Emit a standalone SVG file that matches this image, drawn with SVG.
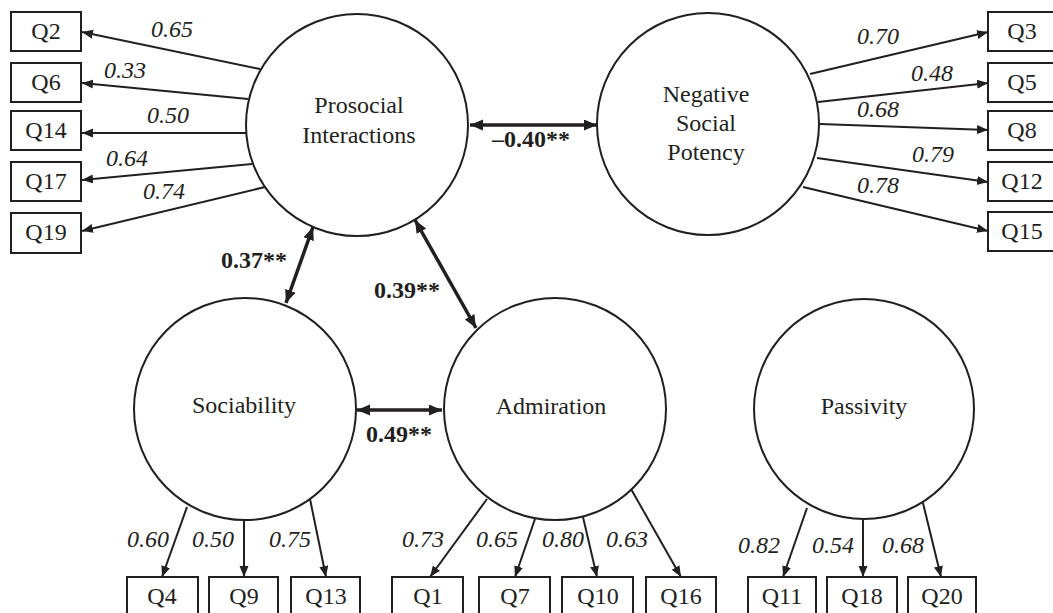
<svg xmlns="http://www.w3.org/2000/svg" width="1053" height="613" viewBox="0 0 1053 613">
<style>
.c{fill:#fff;stroke:#231f20;stroke-width:2}
.b{fill:#fff;stroke:#231f20;stroke-width:2}
text{font-family:"Liberation Serif","Times New Roman",serif;font-size:24px;fill:#231f20}
.lbl{text-anchor:middle}
.it{font-style:italic}
.bd{font-weight:bold}
.ld{stroke:#231f20;stroke-width:2;fill:none;marker-end:url(#ah)}
.cr{stroke:#231f20;stroke-width:3.5;fill:none;marker-start:url(#ch);marker-end:url(#ch)}
</style>
<defs>
<marker id="ah" markerUnits="userSpaceOnUse" markerWidth="12" markerHeight="10" refX="11" refY="4.5" orient="auto"><path d="M0,0 L11,4.5 L0,9 Z" fill="#231f20"/></marker>
<marker id="ch" markerUnits="userSpaceOnUse" markerWidth="14" markerHeight="12" refX="13" refY="5.5" orient="auto-start-reverse"><path d="M0,0 L13,5.5 L0,11 Z" fill="#231f20"/></marker>
</defs>
<rect width="1053" height="613" fill="#fff"/>

<g id="connectors">
<line class="ld" x1="260" y1="69" x2="82" y2="32"/>
<line class="ld" x1="248" y1="99" x2="82" y2="83"/>
<line class="ld" x1="247" y1="133" x2="82" y2="133"/>
<line class="ld" x1="252" y1="164" x2="82" y2="180"/>
<line class="ld" x1="265" y1="187" x2="82" y2="231"/>
<line class="ld" x1="810" y1="74" x2="988" y2="32"/>
<line class="ld" x1="818" y1="102" x2="988" y2="83"/>
<line class="ld" x1="820" y1="124" x2="988" y2="130"/>
<line class="ld" x1="817" y1="158" x2="988" y2="182"/>
<line class="ld" x1="803" y1="187" x2="988" y2="231"/>
<line class="ld" x1="187" y1="507" x2="162" y2="577"/>
<line class="ld" x1="244" y1="520" x2="244" y2="577"/>
<line class="ld" x1="310" y1="499" x2="326" y2="577"/>
<line class="ld" x1="487" y1="499" x2="430" y2="577"/>
<line class="ld" x1="535" y1="519" x2="515" y2="577"/>
<line class="ld" x1="583" y1="517" x2="597" y2="577"/>
<line class="ld" x1="631" y1="489" x2="681" y2="577"/>
<line class="ld" x1="807" y1="508" x2="783" y2="577"/>
<line class="ld" x1="863" y1="520" x2="863" y2="577"/>
<line class="ld" x1="922" y1="499" x2="941" y2="577"/>
<line class="cr" x1="470" y1="125" x2="597" y2="125"/>
<line class="cr" x1="313" y1="227" x2="286" y2="303"/>
<line class="cr" x1="415" y1="220" x2="476" y2="328"/>
<line class="cr" x1="357" y1="410" x2="442" y2="410"/>
</g>

<g id="edge-labels">
<text class="it" x="151" y="37">0.65</text>
<text class="it" x="104" y="78">0.33</text>
<text class="it" x="147" y="123">0.50</text>
<text class="it" x="106" y="166">0.64</text>
<text class="it" x="143" y="199">0.74</text>
<text class="it" x="857" y="44">0.70</text>
<text class="it" x="911" y="81">0.48</text>
<text class="it" x="857" y="117">0.68</text>
<text class="it" x="912" y="162">0.79</text>
<text class="it" x="857" y="193">0.78</text>
<text class="it" x="127" y="547">0.60</text>
<text class="it" x="192" y="547">0.50</text>
<text class="it" x="269" y="547">0.75</text>
<text class="it" x="402" y="547">0.73</text>
<text class="it" x="476" y="547">0.65</text>
<text class="it" x="542" y="547">0.80</text>
<text class="it" x="606" y="547">0.63</text>
<text class="it" x="738" y="553">0.82</text>
<text class="it" x="812" y="553">0.54</text>
<text class="it" x="882" y="553">0.68</text>
<text class="bd" x="492" y="147">–0.40**</text>
<text class="bd" x="221" y="268">0.37**</text>
<text class="bd" x="374" y="298">0.39**</text>
<text class="bd" x="366" y="442">0.49**</text>
</g>

<g id="prosocial"><circle class="c" cx="357" cy="125" r="111"/><text class="lbl" x="359" y="113">Prosocial</text><text class="lbl" x="359" y="143">Interactions</text></g>
<g id="negative"><circle class="c" cx="708" cy="124" r="111"/><text class="lbl" x="706" y="102">Negative</text><text class="lbl" x="706" y="131">Social</text><text class="lbl" x="706" y="160">Potency</text></g>
<g id="sociability"><circle class="c" cx="245" cy="409" r="111"/><text class="lbl" x="244" y="413">Sociability</text></g>
<g id="admiration"><circle class="c" cx="555" cy="409" r="111"/><text class="lbl" x="551" y="414">Admiration</text></g>
<g id="passivity"><circle class="c" cx="864" cy="409" r="110"/><text class="lbl" x="864" y="414">Passivity</text></g>

<g id="Q2"><rect class="b" x="11" y="12" width="70" height="39"/><text class="lbl" x="46" y="39">Q2</text></g>
<g id="Q6"><rect class="b" x="11" y="63" width="70" height="39"/><text class="lbl" x="46" y="90">Q6</text></g>
<g id="Q14"><rect class="b" x="11" y="111" width="70" height="39"/><text class="lbl" x="46" y="138">Q14</text></g>
<g id="Q17"><rect class="b" x="11" y="162" width="70" height="39"/><text class="lbl" x="46" y="189">Q17</text></g>
<g id="Q19"><rect class="b" x="11" y="213" width="70" height="40"/><text class="lbl" x="46" y="240">Q19</text></g>

<g id="Q3"><rect class="b" x="988" y="12" width="70" height="39"/><text class="lbl" x="1022" y="39">Q3</text></g>
<g id="Q5"><rect class="b" x="988" y="63" width="70" height="39"/><text class="lbl" x="1022" y="90">Q5</text></g>
<g id="Q8"><rect class="b" x="988" y="111" width="70" height="39"/><text class="lbl" x="1022" y="138">Q8</text></g>
<g id="Q12"><rect class="b" x="988" y="162" width="70" height="39"/><text class="lbl" x="1022" y="189">Q12</text></g>
<g id="Q15"><rect class="b" x="988" y="212" width="70" height="39"/><text class="lbl" x="1022" y="239">Q15</text></g>

<g id="Q4"><rect class="b" x="127" y="577" width="71" height="42"/><text class="lbl" x="162" y="604">Q4</text></g>
<g id="Q9"><rect class="b" x="209" y="577" width="69" height="42"/><text class="lbl" x="244" y="604">Q9</text></g>
<g id="Q13"><rect class="b" x="291" y="577" width="69" height="42"/><text class="lbl" x="326" y="604">Q13</text></g>
<g id="Q1"><rect class="b" x="392" y="577" width="71" height="42"/><text class="lbl" x="428" y="604">Q1</text></g>
<g id="Q7"><rect class="b" x="479" y="577" width="71" height="42"/><text class="lbl" x="515" y="604">Q7</text></g>
<g id="Q10"><rect class="b" x="562" y="577" width="71" height="42"/><text class="lbl" x="598" y="604">Q10</text></g>
<g id="Q16"><rect class="b" x="646" y="577" width="70" height="42"/><text class="lbl" x="681" y="604">Q16</text></g>
<g id="Q11"><rect class="b" x="748" y="577" width="68" height="42"/><text class="lbl" x="782" y="604">Q11</text></g>
<g id="Q18"><rect class="b" x="827" y="577" width="70" height="42"/><text class="lbl" x="862" y="604">Q18</text></g>
<g id="Q20"><rect class="b" x="908" y="577" width="68" height="42"/><text class="lbl" x="942" y="604">Q20</text></g>
</svg>
